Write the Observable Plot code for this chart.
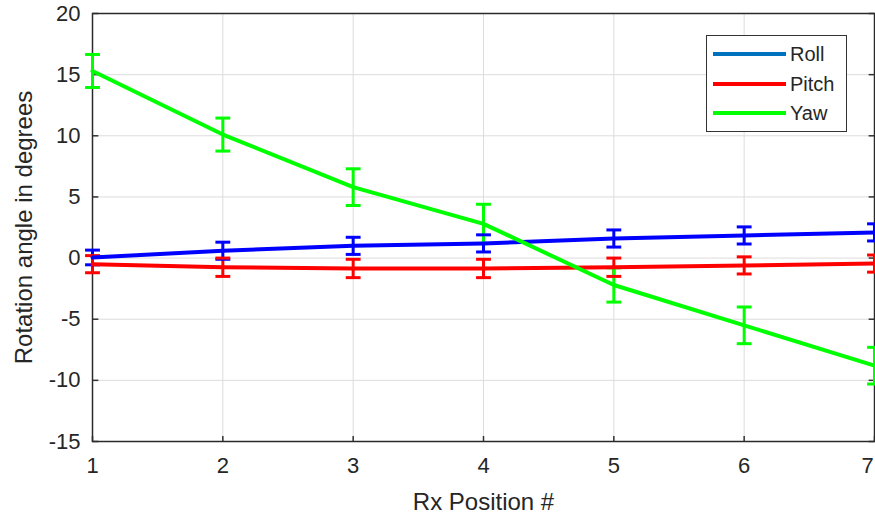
<!DOCTYPE html>
<html>
<head>
<meta charset="utf-8">
<script src="https://cdn.jsdelivr.net/npm/d3@7"></script>
<script src="https://cdn.jsdelivr.net/npm/@observablehq/plot@0.6"></script>
<style>
  html, body { margin: 0; padding: 0; background: #fff; }
  #wrap { position: relative; width: 875px; height: 518px; }
  #legend { position: absolute; left: 706px; top: 35px; width: 141px; height: 97px;
    border: 1.5px solid #333; background: #fff; box-sizing: border-box;
    font-family: "Liberation Sans", Arial, sans-serif; font-size: 20px; color: #262626; }
  .item { position: absolute; left: 6px; height: 24px; display: flex; align-items: center; }
  .item span.sw { display: inline-block; width: 73px; height: 4px; margin-right: 4px; }
</style>
</head>
<body>
<div id="wrap"><div id="legend"></div></div>
<script>
const positions = [1, 2, 3, 4, 5, 6, 7];
const rollMean  = [0.05, 0.6, 1.0, 1.2, 1.6, 1.85, 2.1];
const rollErr   = [0.6, 0.7, 0.7, 0.7, 0.7, 0.7, 0.7];
const pitchMean = [-0.5, -0.75, -0.85, -0.85, -0.75, -0.6, -0.45];
const pitchErr  = [0.7, 0.75, 0.75, 0.75, 0.75, 0.7, 0.7];
const yawMean   = [15.3, 10.1, 5.8, 2.8, -2.2, -5.5, -8.8];
const yawErr    = [1.35, 1.35, 1.5, 1.6, 1.4, 1.5, 1.5];
const seriesNames = ["Roll", "Pitch", "Yaw"];
const lineColors = ["#0000ff", "#ff0000", "#00ff00"];
const legendColors = ["#0072bd", "#ff0000", "#00ff00"];
const yTicks = [-15, -10, -5, 0, 5, 10, 15, 20];

const means = [rollMean, pitchMean, yawMean];
const errs = [rollErr, pitchErr, yawErr];
const data = [];
seriesNames.forEach((s, i) => positions.forEach((x, j) => {
  data.push({series: s, x, y: means[i][j], lo: means[i][j] - errs[i][j], hi: means[i][j] + errs[i][j]});
}));
const color = {domain: seriesNames, range: lineColors};
const capHalf = 0.057;
const tickLenX = 0.045, tickLenY = 0.45;

const font = "'Liberation Sans', Arial, sans-serif";
const chart = Plot.plot({
  width: 875, height: 518,
  marginLeft: 92, marginRight: 1, marginTop: 13, marginBottom: 77,
  style: {fontFamily: font, fontSize: "21px", color: "#262626", background: "#fff"},
  x: {domain: [1, 7], ticks: positions, grid: false},
  y: {domain: [-15, 20], ticks: yTicks},
  color,
  marks: [
    Plot.gridX(positions, {stroke: "#dcdcdc", strokeOpacity: 1, strokeWidth: 1}),
    Plot.gridY(yTicks, {stroke: "#dcdcdc", strokeOpacity: 1, strokeWidth: 1}),
    // inward ticks
    Plot.link(positions, {x1: d => d, x2: d => d, y1: -15, y2: -15 + tickLenY, stroke: "#333", strokeWidth: 1.5}),
    Plot.link(yTicks, {x1: 1, x2: 1 + tickLenX, y1: d => d, y2: d => d, stroke: "#333", strokeWidth: 1.5}),
    Plot.link(yTicks, {x1: 7, x2: 7 - tickLenX, y1: d => d, y2: d => d, stroke: "#333", strokeWidth: 1.5}),
    Plot.frame({stroke: "#2a2a2a", strokeWidth: 1.5}),
    Plot.axisX({ticks: positions, tickFormat: d => String(d), tickSize: 0, tickPadding: 16, fontSize: 22, label: "Rx Position #", labelAnchor: "center", labelArrow: "none", labelOffset: 68, fill: "#262626"}),
    Plot.axisY({ticks: yTicks, tickFormat: d => String(d), tickSize: 0, tickPadding: 12, fontSize: 22, label: "Rotation angle in degrees", labelAnchor: "center", labelArrow: "none", labelOffset: 78, fill: "#262626"}),
    // error bars
    Plot.link(data, {x1: "x", x2: "x", y1: "lo", y2: "hi", stroke: "series", strokeWidth: 3}),
    Plot.link(data, {x1: d => d.x - capHalf, x2: d => d.x + capHalf, y1: "lo", y2: "lo", stroke: "series", strokeWidth: 3}),
    Plot.link(data, {x1: d => d.x - capHalf, x2: d => d.x + capHalf, y1: "hi", y2: "hi", stroke: "series", strokeWidth: 3}),
    Plot.line(data, {x: "x", y: "y", z: "series", stroke: "series", strokeWidth: 4})
  ]
});
chart.querySelectorAll("[aria-label='x-axis label'] text, [aria-label='y-axis label'] text").forEach(t => t.setAttribute("font-size", "24"));
// keep the last x tick label inside the picture
const xLabels = chart.querySelectorAll("[aria-label='x-axis tick label'] text");
if (xLabels.length) {
  const last = xLabels[xLabels.length - 1];
  last.setAttribute("dx", "-7");
}
document.getElementById("wrap").prepend(chart);

const legend = document.getElementById("legend");
const tops = [6, 36, 65];
seriesNames.forEach((s, i) => {
  const it = document.createElement("div");
  it.className = "item";
  it.style.top = tops[i] + "px";
  it.innerHTML = `<span class="sw" style="background:${legendColors[i]}"></span>${s}`;
  legend.appendChild(it);
});
</script>
</body>
</html>
